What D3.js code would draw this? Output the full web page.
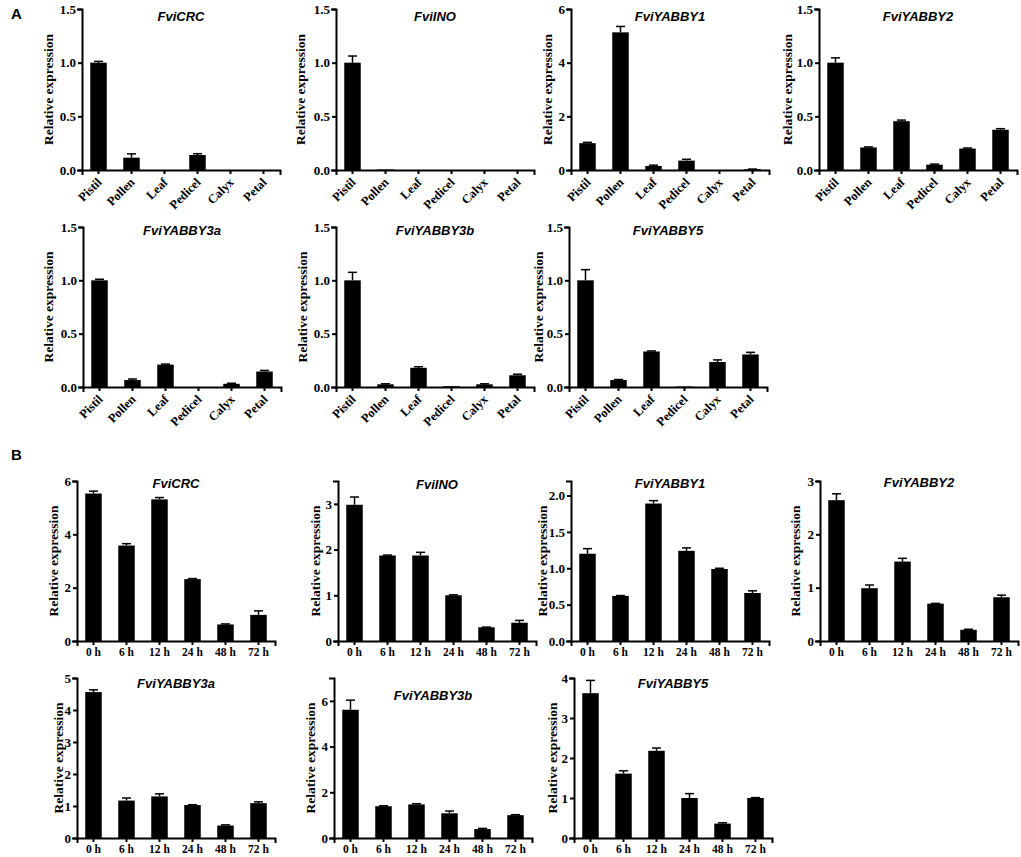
<!DOCTYPE html>
<html><head><meta charset="utf-8">
<script src="https://cdn.jsdelivr.net/npm/d3@7"></script>
<style>body{margin:0;background:#fff} svg{display:block}</style>
</head><body><svg id="c" width="1021" height="857"></svg>
<script>
// ---------- categories ----------
const tissues = ["Pistil","Pollen","Leaf","Pedicel","Calyx","Petal"];
const times = ["0 h","6 h","12 h","24 h","48 h","72 h"];
const genes = ["FviCRC","FviINO","FviYABBY1","FviYABBY2","FviYABBY3a","FviYABBY3b","FviYABBY5"];

// ---------- Panel A: tissues ----------
const aCRC     = [1.00, 0.115, 0, 0.14, 0, 0];
const aCRCErr  = [0.012, 0.035, 0, 0.012, 0, 0];
const aINO     = [1.00, 0.005, 0, 0, 0, 0];
const aINOErr  = [0.062, 0, 0, 0, 0, 0];
const aY1      = [1.00, 5.13, 0.15, 0.35, 0, 0.03];
const aY1Err   = [0.03, 0.22, 0.03, 0.05, 0, 0.005];
const aY2      = [1.00, 0.21, 0.455, 0.05, 0.20, 0.375];
const aY2Err   = [0.045, 0.005, 0.01, 0.005, 0.005, 0.01];
const aY3a     = [1.00, 0.065, 0.21, 0, 0.03, 0.145];
const aY3aErr  = [0.01, 0.01, 0.005, 0, 0.005, 0.01];
const aY3b     = [1.00, 0.025, 0.18, 0.008, 0.025, 0.11];
const aY3bErr  = [0.075, 0.005, 0.01, 0, 0.005, 0.01];
const aY5      = [1.00, 0.065, 0.333, 0.005, 0.234, 0.305];
const aY5Err   = [0.10, 0.005, 0.005, 0, 0.02, 0.02];

// ---------- Panel B: time course ----------
const bCRC     = [5.53, 3.58, 5.31, 2.32, 0.62, 0.98];
const bCRCErr  = [0.09, 0.07, 0.07, 0.02, 0.02, 0.15];
const bINO     = [2.98, 1.87, 1.87, 1.00, 0.30, 0.40];
const bINOErr  = [0.17, 0.01, 0.07, 0.01, 0.005, 0.05];
const bY1      = [1.20, 0.62, 1.89, 1.24, 0.99, 0.66];
const bY1Err   = [0.07, 0.005, 0.04, 0.04, 0.01, 0.03];
const bY2      = [2.64, 0.99, 1.49, 0.70, 0.21, 0.82];
const bY2Err   = [0.12, 0.06, 0.06, 0.005, 0.01, 0.04];
const bY3a     = [4.56, 1.17, 1.30, 1.03, 0.39, 1.09];
const bY3aErr  = [0.07, 0.08, 0.08, 0.01, 0.02, 0.04];
const bY3b     = [5.61, 1.39, 1.47, 1.08, 0.39, 1.00];
const bY3bErr  = [0.42, 0.02, 0.03, 0.10, 0.03, 0.02];
const bY5      = [3.62, 1.61, 2.18, 1.00, 0.36, 1.00];
const bY5Err   = [0.32, 0.07, 0.07, 0.11, 0.02, 0.01];

// ---------- y axis settings ----------
const aYMax   = [1.5, 1.5, 6, 1.5, 1.5, 1.5, 1.5];
const aYTicks = [[0,0.5,1,1.5],[0,0.5,1,1.5],[0,2,4,6],[0,0.5,1,1.5],[0,0.5,1,1.5],[0,0.5,1,1.5],[0,0.5,1,1.5]];
const aYFmt   = [".1f",".1f","d",".1f",".1f",".1f",".1f"];
const bYMax   = [6, 3.5, 2.2, 3, 5, 7, 4];
const bYTicks = [[0,2,4,6],[0,1,2,3],[0,0.5,1,1.5,2],[0,1,2,3],[0,1,2,3,4,5],[0,2,4,6],[0,1,2,3,4]];
const bYFmt   = ["d","d",".1f","d","d","d","d"];

// ---------- layout (pixel positions) ----------
const aAxisX  = [82, 336, 571, 819, 83, 336, 569];
const aLabelX = [48, 300, 547, 787, 48, 302, 538];
const aRowRange = [[170,9],[170,9],[170,9],[170,9],[387,227],[387,227],[387,227]];
const aTitleY = [21, 21, 21, 21, 235, 235, 235];
const bAxisX  = [77, 338, 571, 820, 77, 334, 574];
const bLabelX = [53, 315, 542, 795, 58, 310, 552];
const bRowRange = [[641,481],[641,481],[641,481],[641,481],[838,678],[838,678],[838,678]];
const bTitleY = [488, 489, 488, 487, 688, 700, 688];

const aMeans = [aCRC, aINO, aY1, aY2, aY3a, aY3b, aY5];
const aErrs  = [aCRCErr, aINOErr, aY1Err, aY2Err, aY3aErr, aY3bErr, aY5Err];
const bMeans = [bCRC, bINO, bY1, bY2, bY3a, bY3b, bY5];
const bErrs  = [bCRCErr, bINOErr, bY1Err, bY2Err, bY3aErr, bY3bErr, bY5Err];

const svg = d3.select("#c");
const SERIF = "'Liberation Serif','Times New Roman',serif";
const SANS = "'Liberation Sans',Arial,sans-serif";

function drawChart(s) {
  const x = d3.scaleBand().domain(s.cats).range([s.ax, s.ax + 198]).paddingInner(0.5).paddingOuter(0.25);
  const y = d3.scaleLinear().domain([0, s.yMax]).range(s.range);
  const y0 = s.range[0];
  const g = svg.append("g");
  const data = s.cats.map((c, i) => ({c, v: s.mean[i], e: s.err[i]}));

  g.selectAll("rect").data(data).join("rect")
    .attr("x", d => x(d.c)).attr("width", x.bandwidth())
    .attr("y", d => y(d.v)).attr("height", d => y0 - y(d.v))
    .attr("fill", "#000");

  const eb = data.filter(d => d.e > 0);
  const cw = x.bandwidth() * 0.55;
  g.selectAll("line.ev").data(eb).join("line").attr("class","ev")
    .attr("x1", d => x(d.c) + x.bandwidth()/2).attr("x2", d => x(d.c) + x.bandwidth()/2)
    .attr("y1", d => y(d.v)).attr("y2", d => y(d.v + d.e))
    .attr("stroke", "#000").attr("stroke-width", 1.5);
  g.selectAll("line.ec").data(eb).join("line").attr("class","ec")
    .attr("x1", d => x(d.c) + x.bandwidth()/2 - cw/2).attr("x2", d => x(d.c) + x.bandwidth()/2 + cw/2)
    .attr("y1", d => y(d.v + d.e)).attr("y2", d => y(d.v + d.e))
    .attr("stroke", "#000").attr("stroke-width", 1.5);

  const xa = g.append("g").attr("transform", `translate(0,${y0})`)
    .call(d3.axisBottom(x).tickSizeOuter(0).tickSize(4).tickPadding(s.rotate ? 5 : 3));
  const ya = g.append("g").attr("transform", `translate(${s.ax},0)`)
    .call(d3.axisLeft(y).tickValues(s.yTicks).tickFormat(d3.format(s.fmt)).tickSizeOuter(0).tickSize(4).tickPadding(2));

  [xa, ya].forEach(a => {
    a.select(".domain").attr("stroke", "#000").attr("stroke-width", 2).attr("stroke-linecap", "square");
    a.selectAll(".tick line").attr("stroke", "#000").attr("stroke-width", 2);
    a.selectAll("text").attr("fill", "#000").style("font-family", SERIF).style("font-weight", "bold");
  });
  ya.selectAll("text").style("font-size", "13px");
  if (s.rotate) {
    xa.selectAll("text").attr("x", 0).attr("y", 0).attr("dy", null)
      .attr("transform", "translate(4,13) rotate(-45)")
      .style("text-anchor", "end").style("font-size", "12.5px");
  } else {
    xa.selectAll("text").style("font-size", "11.5px");
  }

  g.append("text")
    .attr("transform", `translate(${s.lx},${(s.range[0] + s.range[1]) / 2}) rotate(-90)`)
    .attr("dy", "0.35em").attr("text-anchor", "middle")
    .style("font-family", SERIF).style("font-weight", "bold").style("font-size", "13.5px")
    .text("Relative expression");

  g.append("text").attr("x", s.ax + 99).attr("y", s.ty).attr("text-anchor", "middle")
    .style("font-family", SANS).style("font-weight", "bold").style("font-style", "italic").style("font-size", "13px")
    .text(s.title);
}

genes.forEach((gname, i) => {
  drawChart({cats: tissues, mean: aMeans[i], err: aErrs[i], yMax: aYMax[i], yTicks: aYTicks[i], fmt: aYFmt[i],
    ax: aAxisX[i], lx: aLabelX[i], range: aRowRange[i], ty: aTitleY[i], title: gname, rotate: true});
  drawChart({cats: times, mean: bMeans[i], err: bErrs[i], yMax: bYMax[i], yTicks: bYTicks[i], fmt: bYFmt[i],
    ax: bAxisX[i], lx: bLabelX[i], range: bRowRange[i], ty: bTitleY[i], title: gname, rotate: false});
});

svg.append("text").attr("x", 11).attr("y", 19).style("font-family", SANS).style("font-weight", "bold").style("font-size", "15px").text("A");
svg.append("text").attr("x", 11).attr("y", 460).style("font-family", SANS).style("font-weight", "bold").style("font-size", "15px").text("B");
</script>
</body></html>
